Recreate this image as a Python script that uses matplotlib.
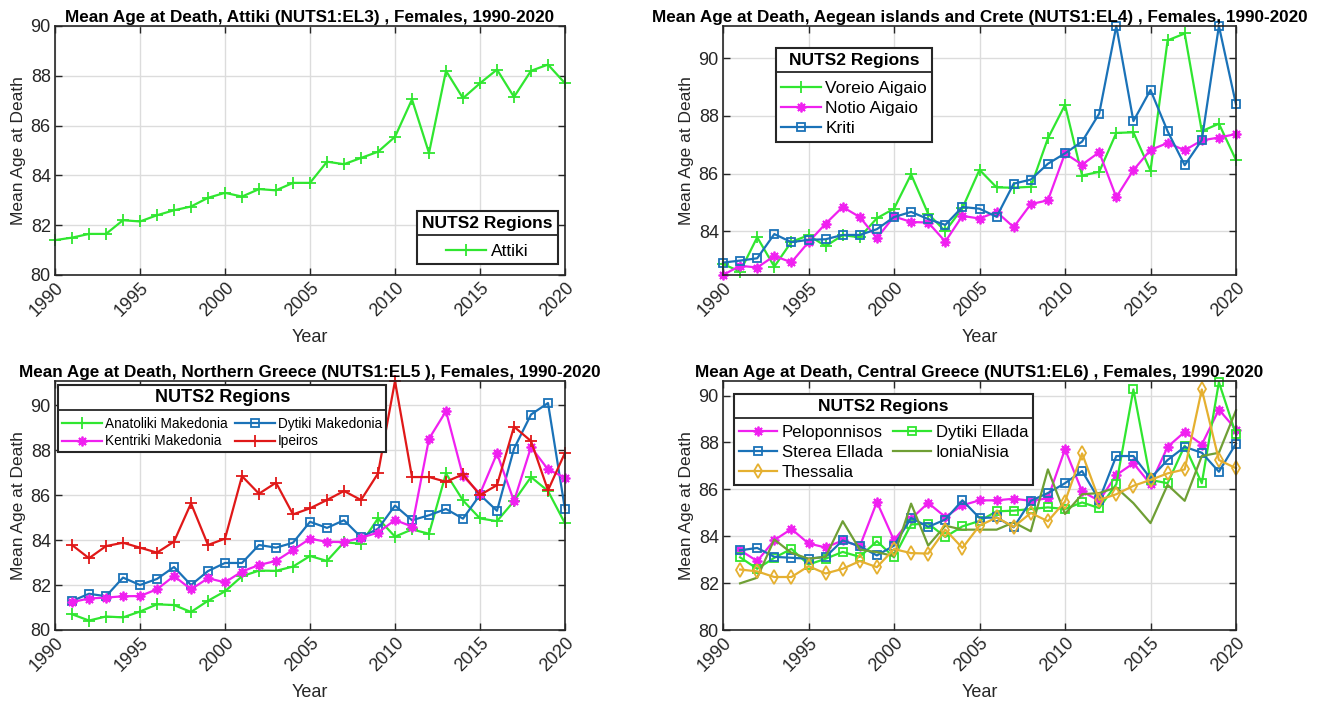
import matplotlib
matplotlib.use("Agg")
import matplotlib.pyplot as plt
from matplotlib.lines import Line2D

plt.rcParams["font.family"] = ["Liberation Sans", "DejaVu Sans"]

# ---------------------------------------------------------------------------
# Data: mean age at death, females, by NUTS2 region
# ---------------------------------------------------------------------------
years_full = list(range(1990, 2021))
years_from91 = list(range(1991, 2021))

# NUTS1:EL3
attiki = [81.4, 81.5, 81.65, 81.65, 82.2, 82.15, 82.4, 82.6, 82.75, 83.1,
          83.3, 83.15, 83.45, 83.4, 83.7, 83.7, 84.55, 84.45, 84.7, 84.95,
          85.55, 87.05, 84.9, 88.2, 87.1, 87.7, 88.25, 87.15, 88.2, 88.45, 87.7]

# NUTS1:EL4
voreio_aigaio = [82.86, 82.6, 83.79, 82.77, 83.63, 83.86, 83.48, 83.86, 83.79, 84.45,
                 84.78, 85.97, 84.6, 84.0, 84.8, 86.13, 85.52, 85.51, 85.54, 87.22,
                 88.38, 85.93, 86.06, 87.41, 87.43, 86.1, 90.62, 90.86, 87.47, 87.73, 86.47]
notio_aigaio = [82.48, 82.8, 82.74, 83.14, 82.92, 83.62, 84.26, 84.84, 84.49, 83.76,
                84.51, 84.32, 84.3, 83.64, 84.53, 84.44, 84.67, 84.14, 84.94, 85.07,
                86.7, 86.31, 86.74, 85.18, 86.12, 86.82, 87.06, 86.81, 87.15, 87.25, 87.37]
kriti = [82.91, 82.98, 83.06, 83.9, 83.62, 83.7, 83.72, 83.87, 83.87, 84.07,
         84.49, 84.67, 84.42, 84.22, 84.84, 84.78, 84.5, 85.65, 85.79, 86.34,
         86.7, 87.11, 88.08, 91.12, 87.82, 88.9, 87.47, 86.29, 87.16, 91.12, 88.4]

# NUTS1:EL5 (1991-2020)
anatoliki_mak = [80.7, 80.42, 80.6, 80.56, 80.82, 81.14, 81.11, 80.8, 81.3, 81.72,
                 82.39, 82.64, 82.63, 82.82, 83.29, 83.07, 83.9, 83.84, 84.96, 84.15,
                 84.47, 84.28, 86.96, 85.76, 84.96, 84.84, 85.73, 86.8, 86.18, 84.74]
kentriki_mak = [81.24, 81.4, 81.44, 81.5, 81.51, 81.81, 82.4, 81.81, 82.3, 82.12,
                82.6, 82.89, 83.07, 83.56, 84.06, 83.92, 83.91, 84.1, 84.33, 84.89,
                84.6, 88.5, 89.73, 86.84, 86.06, 87.85, 85.73, 88.13, 87.14, 86.77]
dytiki_mak = [81.29, 81.61, 81.5, 82.33, 82.0, 82.27, 82.8, 82.0, 82.62, 82.98,
              82.98, 83.78, 83.66, 83.88, 84.81, 84.54, 84.88, 84.13, 84.5, 85.53,
              84.88, 85.1, 85.38, 84.95, 86.01, 85.3, 88.06, 89.58, 90.09, 85.36]
ipeiros = [83.78, 83.19, 83.73, 83.88, 83.66, 83.44, 83.93, 85.63, 83.78, 84.06,
           86.84, 86.06, 86.55, 85.14, 85.41, 85.78, 86.18, 85.78, 86.96, 91.07,
           86.8, 86.8, 86.59, 86.92, 86.0, 86.44, 89.04, 88.4, 86.21, 87.88]

# NUTS1:EL6 (1991-2020)
peloponnisos = [83.4, 82.94, 83.83, 84.31, 83.69, 83.52, 83.82, 83.57, 85.46, 83.83,
                84.74, 85.42, 84.82, 85.32, 85.53, 85.53, 85.6, 85.51, 85.62, 87.71,
                85.91, 85.51, 86.61, 87.11, 86.22, 87.81, 88.45, 87.91, 89.4, 88.55]
sterea_ellada = [83.4, 83.5, 83.12, 83.08, 83.04, 83.12, 83.82, 83.57, 83.18, 83.6,
                 84.78, 84.4, 84.71, 85.53, 84.78, 84.8, 84.38, 85.51, 85.84, 86.26,
                 86.78, 85.55, 87.42, 87.42, 86.47, 87.25, 87.81, 87.56, 86.75, 87.95]
dytiki_ellada = [83.1, 82.61, 83.08, 83.46, 82.79, 83.04, 83.33, 83.12, 83.79, 83.1,
                 84.5, 84.54, 83.97, 84.42, 84.65, 85.06, 85.09, 85.16, 85.23, 85.16,
                 85.44, 85.2, 86.22, 90.26, 86.4, 86.26, 87.86, 86.26, 90.57, 88.34]
ionia_nisia = [81.99, 82.23, 83.86, 83.29, 83.04, 83.12, 84.64, 83.43, 83.32, 83.15,
               85.39, 83.6, 84.45, 84.28, 84.28, 84.28, 84.59, 84.21, 86.85, 84.95,
               85.79, 85.84, 86.08, 85.41, 84.56, 86.19, 85.51, 87.42, 87.56, 89.37]
thessalia = [82.58, 82.5, 82.26, 82.26, 82.72, 82.41, 82.61, 82.94, 82.68, 83.45,
             83.28, 83.26, 84.28, 83.5, 84.45, 84.8, 84.4, 84.99, 84.64, 85.48,
             87.53, 85.55, 85.79, 86.15, 86.4, 86.68, 86.85, 90.26, 87.25, 86.9]

# ---------------------------------------------------------------------------
GREEN = "#30e630"
MAGENTA = "#f020f0"
BLUE = "#1a72b8"
RED = "#e01818"
ORANGE = "#e5b030"
OLIVE = "#6f9f35"
DARK = "#262626"
STAR = (8, 2, 0)

W, H = 1320, 702
fig = plt.figure(figsize=(W / 100, H / 100), dpi=100)


def add_axes(left, right, top, bottom):
    return fig.add_axes([left / W, 1 - bottom / H, (right - left) / W, (bottom - top) / H])


def style(ax, ylim, title):
    ax.set_xlim(1990, 2020)
    ax.set_xticks(range(1990, 2021, 5))
    ax.set_yticks(range(80, 91, 2))
    ax.set_ylim(*ylim)
    ax.grid(True, color="#dcdcdc", linewidth=1)
    ax.set_axisbelow(True)
    ax.tick_params(direction="in", top=True, right=True, length=5, width=1,
                   labelsize=13, colors=DARK, pad=3)
    for lab in ax.get_xticklabels():
        lab.set_rotation(45)
        lab.set_ha("right")
        lab.set_rotation_mode("anchor")
    for sp in ax.spines.values():
        sp.set_color(DARK)
        sp.set_linewidth(1.2)
    ax.set_xlabel("Year", fontsize=13, color=DARK, labelpad=7)
    ax.set_ylabel("Mean Age at Death", fontsize=12.5, color=DARK, labelpad=3)
    ax.set_title(title, fontsize=12.3, fontweight="bold", pad=3)


def line(ax, x, y, color, marker, label, ms=7, mfc="none"):
    return ax.plot(x, y, color=color, marker=marker, markersize=ms, markerfacecolor=mfc,
                   markeredgewidth=1.3, linewidth=1.6, label=label, clip_on=False)[0]


def nuts_legend(ax, handles, loc, anchor, fontsize=12.5, ncol=1, spacing=0.3,
                title_gap=9, handlelength=2.3, colspace=1.0, title_size=12.5):
    leg = ax.legend(handles=handles, title="NUTS2 Regions", ncol=ncol, loc=loc,
                    bbox_to_anchor=anchor, fontsize=fontsize,
                    title_fontproperties={"weight": "bold", "size": title_size},
                    frameon=True, fancybox=False, edgecolor=DARK, framealpha=1,
                    handlelength=handlelength, handletextpad=0.25, borderaxespad=0,
                    columnspacing=colspace, labelspacing=spacing, borderpad=0.3)
    leg.get_frame().set_linewidth(1.5)
    # room between the title row and the entries, like MATLAB
    leg._legend_box.sep = title_gap
    leg.title_gap = title_gap
    return leg


ax_tl = add_axes(55, 565, 26, 275)
ax_tr = add_axes(723, 1236, 26, 275)
ax_bl = add_axes(55, 565, 381, 630)
ax_br = add_axes(723, 1236, 381, 630)

# Attiki
h = line(ax_tl, years_full, attiki, GREEN, "+", "Attiki", ms=9)
style(ax_tl, (80, 90), "Mean Age at Death, Attiki (NUTS1:EL3) , Females, 1990-2020")
legends = [nuts_legend(ax_tl, [h], "lower right", (0.986, 0.045), title_gap=9)]

# Aegean islands and Crete
h1 = line(ax_tr, years_full, voreio_aigaio, GREEN, "+", "Voreio Aigaio", ms=9)
h2 = line(ax_tr, years_full, notio_aigaio, MAGENTA, STAR, "Notio Aigaio", ms=7, mfc=MAGENTA)
h3 = line(ax_tr, years_full, kriti, BLUE, "s", "Kriti", ms=6)
style(ax_tr, (82.48, 91.12),
      "Mean Age at Death, Aegean islands and Crete (NUTS1:EL4) , Females, 1990-2020")
legends.append(nuts_legend(ax_tr, [h1, h2, h3], "upper left", (0.103, 0.912)))

# Northern Greece
h1 = line(ax_bl, years_from91, anatoliki_mak, GREEN, "+", "Anatoliki Makedonia", ms=9)
h2 = line(ax_bl, years_from91, dytiki_mak, BLUE, "s", "Dytiki Makedonia", ms=6)
h3 = line(ax_bl, years_from91, kentriki_mak, MAGENTA, STAR, "Kentriki Makedonia", ms=7, mfc=MAGENTA)
h4 = line(ax_bl, years_from91, ipeiros, RED, "+", "Ipeiros", ms=9)
style(ax_bl, (80, 91.07),
      "Mean Age at Death, Northern Greece (NUTS1:EL5 ), Females, 1990-2020")
legends.append(nuts_legend(ax_bl, [h1, h3, h2, h4], "upper left", (0.006, 0.985),
                           fontsize=9.8, ncol=2, spacing=0.25, title_gap=8,
                           handlelength=2.9, colspace=0.55, title_size=13))

# Central Greece
h1 = line(ax_br, years_from91, peloponnisos, MAGENTA, STAR, "Peloponnisos", ms=7, mfc=MAGENTA)
h2 = line(ax_br, years_from91, dytiki_ellada, GREEN, "s", "Dytiki Ellada", ms=6)
h3 = line(ax_br, years_from91, sterea_ellada, BLUE, "s", "Sterea Ellada", ms=6)
h4 = ax_br.plot(years_from91, ionia_nisia, color=OLIVE, linewidth=1.6, label="IoniaNisia",
                clip_on=False)[0]
h5 = line(ax_br, years_from91, thessalia, ORANGE, "d", "Thessalia", ms=7)
style(ax_br, (80, 90.62),
      "Mean Age at Death, Central Greece (NUTS1:EL6) , Females, 1990-2020")
legends.append(nuts_legend(ax_br, [h1, h3, h5, h2, h4], "upper left", (0.021, 0.948),
                           fontsize=12.1, ncol=2, spacing=0.3, title_gap=8, colspace=0.6))

# MATLAB-style separator between legend title and entries
fig.canvas.draw()
renderer = fig.canvas.get_renderer()
inv = fig.transFigure.inverted()
for leg in legends:
    bb = leg.get_window_extent(renderer)
    tb = leg.get_title().get_window_extent(renderer)
    y = tb.y0 - leg.title_gap * fig.dpi / 72 * 0.35
    (x0, y0), (x1, _) = inv.transform([(bb.x0, y), (bb.x1, y)])
    fig.add_artist(Line2D([x0, x1], [y0, y0], transform=fig.transFigure,
                          color=DARK, linewidth=1.3, zorder=10))

fig.savefig("out.png", dpi=100)
